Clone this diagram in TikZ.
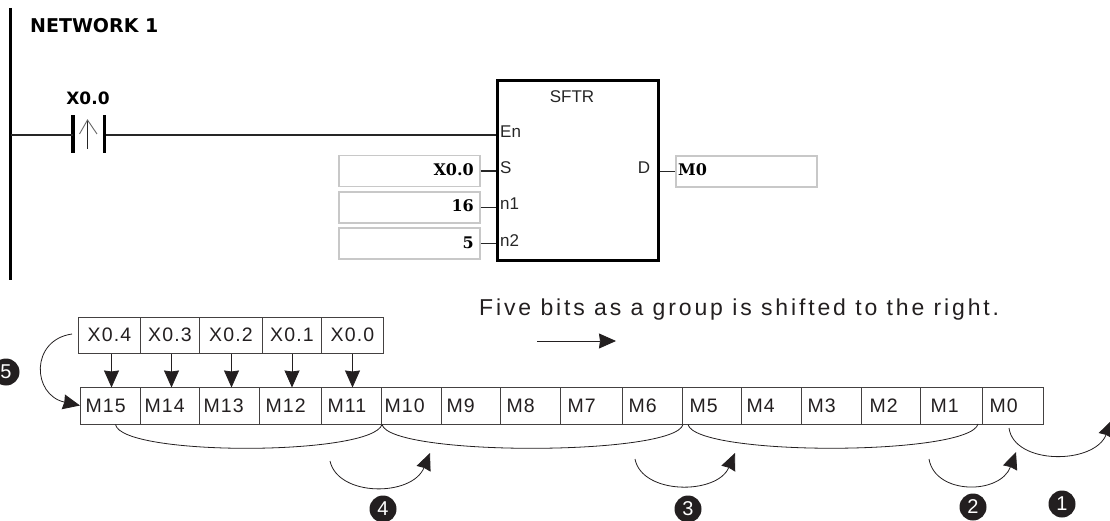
\documentclass[tikz,border=0pt]{standalone}
\usepackage{fontspec}
\setmainfont{Liberation Sans}
\newfontfamily\ladderfont{DejaVu Sans}
\newfontfamily\slabfont{DejaVu Serif}
\newfontfamily\diagfont[LetterSpace=6]{Liberation Sans}
\newfontfamily\captionfont[LetterSpace=12.5]{Liberation Sans}
\usepackage{tikz}
\usetikzlibrary{positioning, arrows.meta}
\definecolor{inkdark}{HTML}{231F20}
\definecolor{boxgray}{HTML}{C8C8C8}

\begin{document}
\begin{tikzpicture}[x=1pt, y=-1pt,
    wire/.style = {line width=1.3pt, draw=black!85},
    contactbar/.style = {fill=black, inner sep=0pt, minimum width=3.5pt, minimum height=38pt},
    pinlabel/.style = {inner sep=0pt, font=\fontsize{17}{17}\selectfont, text=black!85},
    valuebox/.style = {draw=boxgray, line width=1.3pt, minimum width=141pt, minimum height=31pt, inner sep=0pt},
    valuetext/.style = {inner sep=0pt, font=\slabfont\bfseries\fontsize{16}{16}\selectfont},
    memcell/.style = {draw=inkdark!85, line width=1pt, anchor=west, minimum height=37pt, inner ysep=0pt,
                      align=left, text=inkdark, font=\diagfont\fontsize{19.5}{19.5}\selectfont},
    inputcell/.style = {draw=inkdark!85, line width=1pt, anchor=west, minimum height=36pt, inner sep=0pt,
                      text=inkdark, font=\diagfont\fontsize{19.5}{19.5}\selectfont},
    shiftarrow/.style = {line width=0.8pt, draw=inkdark, -{Stealth[length=17pt, width=15pt, inset=1pt]}},
    shiftcurve/.style = {line width=0.8pt, draw=inkdark},
    badge/.style = {circle, fill=inkdark, text=white, minimum size=27pt, inner sep=0pt, font=\fontsize{20}{20}\selectfont}]
    \useasboundingbox (0,0) rectangle (1110,521);

    % ladder network
    \coordinate (railtop) at (10.5,8);
    \coordinate (railbottom) at (10.5,280);
    \draw[line width=3.5pt, black] (railtop) -- (railbottom);
    \node[anchor=base west, inner sep=0pt, font=\ladderfont\bfseries\fontsize{19}{19}\selectfont] (title) at (30,33) {NETWORK 1};

    \node[contactbar] (contactl) at (73,134) {};
    \node[contactbar] (contactr) at (104.5,134) {};
    \node[inner sep=0pt, font=\ladderfont\bfseries\fontsize{17}{17}\selectfont] (contactname) at (88,98) {X0.0};
    \coordinate (edgelow) at (87.5,149);
    \coordinate (edgetip) at (87.5,120);
    \coordinate (edgewingl) at (79.5,134);
    \coordinate (edgewingr) at (97,134);
    \draw[line width=1.2pt, black!85] (edgelow) -- (edgetip);
    \draw[line width=0.9pt, black!60] (edgewingl) -- (edgetip) -- (edgewingr);

    \node[draw=black, line width=3pt, minimum width=161pt, minimum height=179pt, inner sep=0pt] (sftr) at (577.5,170.5) {};
    \node[inner sep=0pt, font=\fontsize{17}{17}\selectfont, text=black!85] (sftrname) at (572,97) {SFTR};
    \node[pinlabel, anchor=west] (pinen) at (500,132) {En};
    \node[pinlabel, anchor=west] (pins) at (500,168) {S};
    \node[pinlabel, anchor=west] (pinn1) at (500,204) {n1};
    \node[pinlabel, anchor=west] (pinn2) at (500,241) {n2};
    \node[pinlabel] (pind) at (644,168) {D};

    \coordinate (railtap) at (10.5,135);
    \draw[wire] (railtap) -- (railtap -| contactl);
    \draw[wire] (contactr.east |- railtap) -- (railtap -| sftr.west);

    \node[valuebox] (boxs) at (409.5,171) {};
    \node[valuebox] (boxn1) at (409.5,207.5) {};
    \node[valuebox] (boxn2) at (409.5,243.5) {};
    \node[valuebox] (boxd) at (746.5,171.5) {};
    \node[valuetext, anchor=east] (txts) at (474,170) {X0.0};
    \node[valuetext, anchor=east] (txtn1) at (474,206) {16};
    \node[valuetext, anchor=east] (txtn2) at (474,243) {5};
    \node[valuetext, anchor=west] (txtd) at (678,170) {M0};
    \foreach \a in {s,n1,n2}{
        \draw[wire] (box\a.east) -- (box\a.east -| sftr.west);
    }
    \draw[wire] (sftr.east |- boxd) -- (boxd.west);

    % input bits
    \foreach \a/\xa/\xb in {4/78/140, 3/140/199, 2/199/262, 1/262/321, 0/321/383}{
        \pgfmathsetmacro\cw{\xb-\xa}
        \node[inputcell, minimum width=\cw pt] (x\a) at (\xa,335) {X0.\a};
    }

    % memory bits
    \foreach \a/\xa/\xb/\t in {15/80/140/5, 14/140/199/4, 13/199/259/4, 12/259/321/6, 11/321/381/6, 10/381/441/3, 9/441/500/5, 8/500/560/6,
                               7/560/622/7, 6/622/682/6, 5/682/741/7, 4/741/801/5, 3/801/861/6, 2/861/920/8, 1/920/982/10, 0/982/1043/7}{
        \pgfmathsetmacro\cw{\xb-\xa}
        \node[memcell, minimum width=\cw pt, inner xsep=\t pt, text width=\cw pt-2*\t pt] (m\a) at (\xa,405.5) {\raisebox{-1.5pt}{M\a}};
    }

    \draw[shiftarrow] (x4.south) ++(2,0) -- ++(0,34);
    \draw[shiftarrow] (x3.south) ++(1.5,0) -- ++(0,34);
    \draw[shiftarrow] (x2.south) ++(0.5,0) -- ++(0,34);
    \draw[shiftarrow] (x1.south) -- ++(0,34);
    \draw[shiftarrow] (x0.south) -- ++(0,34);

    \coordinate (feedstart) at (72,334);
    \draw[shiftarrow] (feedstart) .. controls (30,340) and (32,395) .. (m15.west);

    % group shifts
    \draw[shiftcurve] ([xshift=5pt]m15.south) .. controls +(6,32) and (372,456) .. (m11.south east);
    \draw[shiftcurve] (m10.south west) ++(1,0) .. controls +(8,32) and (675,456) .. (m6.south east);
    \draw[shiftcurve] (m5.south west) ++(6,0) .. controls +(8,32) and (970,456) .. (978,424);

    \coordinate (a4s) at (330,461);
    \coordinate (a4e) at (430,453);
    \coordinate (a3s) at (635,459);
    \coordinate (a3e) at (735,453);
    \coordinate (a2s) at (929,459);
    \coordinate (a2e) at (1016,452);
    \coordinate (a1s) at (1009,428);
    \coordinate (a1e) at (1112,420);
    \draw[shiftarrow] (a4s) .. controls (338,497) and (412,497) .. (a4e);
    \draw[shiftarrow] (a3s) .. controls (642,495) and (717,495) .. (a3e);
    \draw[shiftarrow] (a2s) .. controls (935,495) and (1000,495) .. (a2e);
    \draw[shiftarrow] (a1s) .. controls (1014,465) and (1094,465) .. (a1e);

    \node[badge] (b1) at (1062,504) {1};
    \node[badge] (b2) at (973,507) {2};
    \node[badge] (b3) at (688,509) {3};
    \node[badge] (b4) at (383,509) {4};
    \node[badge] (b5) at (6,372) {5};

    % caption
    \node[anchor=base west, inner sep=0pt, text=inkdark, font=\captionfont\fontsize{23}{23}\selectfont] (caption) at (479,315) {Five bits as a group is shifted to the right.};
    \coordinate (dirs) at (537,341);
    \coordinate (dire) at (616,341);
    \draw[shiftarrow] (dirs) -- (dire);
\end{tikzpicture}
\end{document}
